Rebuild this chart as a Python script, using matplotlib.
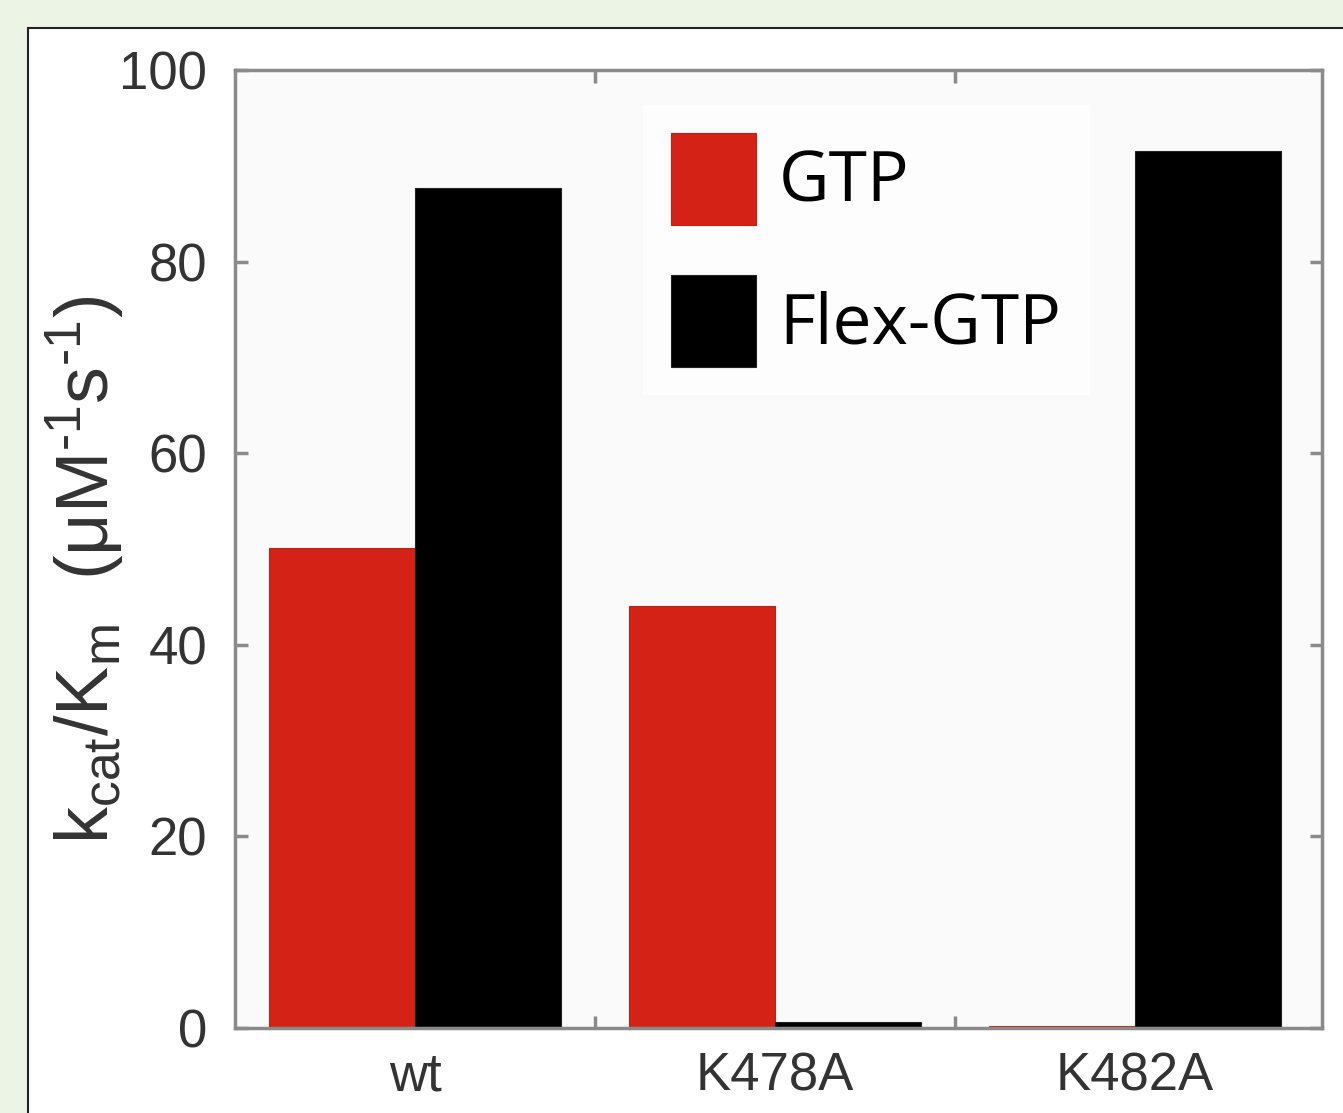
import matplotlib
matplotlib.use("Agg")
import matplotlib.pyplot as plt
from matplotlib.patches import Rectangle
import numpy as np

categories = ["wt", "K478A", "K482A"]
gtp = [50.1, 44.0, 0.2]
flex_gtp = [87.7, 0.6, 91.5]
yticks = [0, 20, 40, 60, 80, 100]

plt.rcParams["font.family"] = ["Liberation Sans", "DejaVu Sans"]
plt.rcParams["mathtext.fontset"] = "custom"
plt.rcParams["mathtext.rm"] = "Liberation Sans"
plt.rcParams["mathtext.it"] = "Liberation Sans"

fig = plt.figure(figsize=(13.43, 11.13), dpi=100)
fig.patch.set_facecolor("#ecf4e5")
panel = Rectangle((28 / 1343, -0.05), 1.2, 1.05 - 28 / 1113,
                  transform=fig.transFigure, facecolor="white",
                  edgecolor="#222222", linewidth=1.5, zorder=-10)
fig.add_artist(panel)

ax = fig.add_axes([235 / 1343, 1 - 1028 / 1113, (1322 - 235) / 1343,
                   (1028 - 70) / 1113])
ax.set_zorder(1)
ax.set_facecolor("#fafafa")

x = np.arange(len(categories))
w = 0.405
ax.bar(x - w / 2, gtp, w, color="#d42316", edgecolor="#c02015",
       linewidth=0.8, label="GTP")
ax.bar(x + w / 2, flex_gtp, w, color="black", edgecolor="#222222",
       linewidth=0.8, label="Flex-GTP")

ax.set_xlim(-0.5, 2.52)
ax.set_ylim(0, 100)
ax.set_xticks(x)
ax.set_xticklabels(categories)
ax.set_xticks([0.5, 1.5], minor=True)
ax.set_yticks(yticks)
ax.tick_params(axis="x", which="major", length=0, pad=17, labelsize=38,
               labelcolor="#333333")
ax.tick_params(axis="x", which="minor", direction="in", length=9, width=2.5,
               color="#8a8a8a", top=True, bottom=True)
ax.tick_params(axis="y", direction="in", length=9, width=2.5,
               color="#8a8a8a", right=True, pad=20, labelsize=38,
               labelcolor="#333333")
for s in ax.spines.values():
    s.set_color("#8a8a8a")
    s.set_linewidth(2.5)

ax.set_ylabel("k$_{\\rm cat}$/K$_{\\rm m}$  ($\\mu$M$^{\\rm \u2010 1}$s$^{\\rm \u2010 1}$)",
              fontsize=53, color="#333333")
ax.yaxis.set_label_coords(-0.1, 0.478)

leg = ax.legend(loc="upper left", bbox_to_anchor=(0.3753, 0.9635),
                borderaxespad=0,
                prop={"family": ["Open Sans", "DejaVu Sans"], "size": 50},
                frameon=True, fancybox=False, handlelength=1.23,
                handleheight=1.66, handletextpad=0.33, labelspacing=0.72,
                borderpad=0.4)
leg.get_frame().set_facecolor("white")
leg.get_frame().set_edgecolor("white")

fig.savefig("out.png", dpi=100, facecolor=fig.get_facecolor())
